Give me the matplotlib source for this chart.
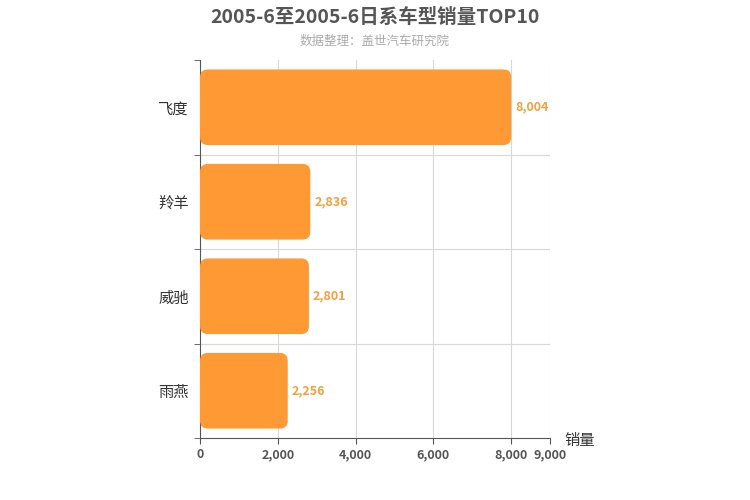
import matplotlib
matplotlib.use("Agg")
import matplotlib.pyplot as plt
from matplotlib.patches import FancyBboxPatch

plt.rcParams['font.family'] = ['Noto Sans CJK SC', 'DejaVu Sans']

models = ['飞度', '羚羊', '威驰', '雨燕']
sales = [8004, 2836, 2801, 2256]
xticks = [0, 2000, 4000, 6000, 8000, 9000]
xtick_labels = ['0', '2,000', '4,000', '6,000', '8,000', '9,000']

bar_color = '#ff9933'

fig = plt.figure(figsize=(7.5, 5), dpi=100)
ax = fig.add_axes([200 / 750, 62 / 500, 350 / 750, 378 / 500])

n = len(models)
ax.set_xlim(0, 9000)
ax.set_ylim(n - 0.5, -0.5)
bars = ax.barh(range(n), sales, height=0.8, color='none')

aspect = (4 / 378) / (9000 / 350)
for rect, val in zip(bars, sales):
    x, y = rect.get_x(), rect.get_y()
    w, h = rect.get_width(), rect.get_height()
    ax.add_patch(FancyBboxPatch((x, y), w, h,
                                boxstyle="round,pad=0,rounding_size=200",
                                mutation_aspect=aspect,
                                facecolor=bar_color, edgecolor='none', zorder=3))
    ax.text(val + 100, y + h / 2, f"{val:,}", va='center', ha='left',
            color='#f0a040', fontsize=9, fontweight='bold', zorder=4)

for xv in xticks[1:]:
    ax.axvline(xv, color='#d8d8d8', linewidth=0.8, zorder=1)
for i in range(n - 1):
    ax.axhline(i + 0.5, color='#d8d8d8', linewidth=0.8, zorder=1)

ax.set_yticks(range(n))
ax.set_yticklabels(models, fontsize=11, color='#333333')
ax.tick_params(axis='y', length=0, pad=8)
ax.set_yticks([i - 0.5 for i in range(n + 1)], minor=True)
ax.tick_params(axis='y', which='minor', length=4, color='#555555')

ax.set_xticks(xticks)
ax.set_xticklabels(xtick_labels, fontsize=9, fontweight='bold', color='#555555')
ax.tick_params(axis='x', length=4, color='#555555')

for s in ['top', 'right']:
    ax.spines[s].set_visible(False)
ax.spines['left'].set_color('#555555')
ax.spines['bottom'].set_color('#555555')

fig.text(0.5, 0.965, '2005-6至2005-6日系车型销量TOP10', ha='center', va='center',
         fontsize=14, fontweight='bold', color='#555555')
fig.text(0.5, 0.918, '数据整理：盖世汽车研究院', ha='center', va='center',
         fontsize=9, color='#aaaaaa')
fig.text(580 / 750, 1 - 440 / 500, '销量', ha='center', va='center',
         fontsize=11, color='#333333')

fig.savefig('out.png', dpi=100)
